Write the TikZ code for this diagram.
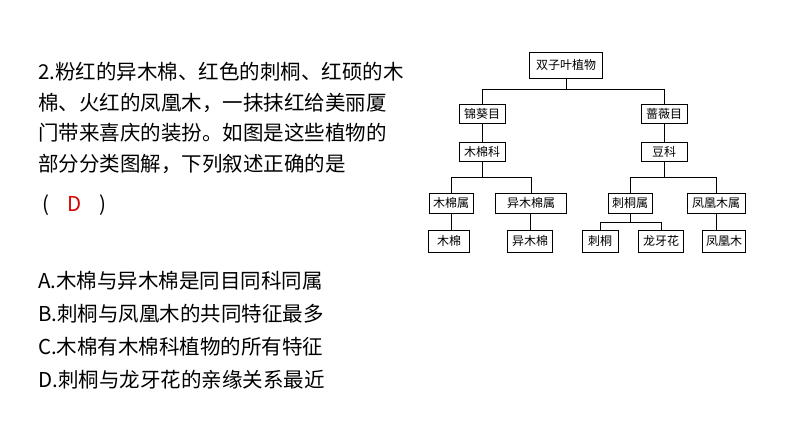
\documentclass[tikz,border=0pt]{standalone}
\usepackage{fontspec}
\newfontfamily\cjk{Noto Sans CJK SC}
\begin{document}
\begin{tikzpicture}[x=1pt,y=-1pt,
  bx/.style={draw,line width=0.7pt,font=\cjk\fontsize{12}{12}\selectfont,inner sep=0pt,minimum height=#1},
  bx/.default=19,
  ln/.style={line width=0.7pt},
  tx/.style={anchor=west,font=\cjk\fontsize{20.5}{20.5}\selectfont,inner sep=0pt}]
\useasboundingbox (0,0) rectangle (794,447);
\node[bx=26,minimum width=73] (r) at (566,65) {双子叶植物};
\node[bx,minimum width=46] (a) at (482,114) {锦葵目};
\node[bx,minimum width=46] (b) at (664,114) {蔷薇目};
\node[bx,minimum width=46] (a1) at (482,152) {木棉科};
\node[bx,minimum width=46] (b1) at (664,152) {豆科};
\node[bx=20,minimum width=44] (c1) at (451,203) {木棉属};
\node[bx=20,minimum width=71] (c2) at (531,203) {异木棉属};
\node[bx=20,minimum width=44] (c3) at (630,203) {刺桐属};
\node[bx=20,minimum width=58] (c4) at (716,203) {凤凰木属};
\node[bx=22,minimum width=41] (d1) at (449,241) {木棉};
\node[bx=22,minimum width=45] (d2) at (530,241) {异木棉};
\node[bx=22,minimum width=36] (d3) at (600,241) {刺桐};
\node[bx=22,minimum width=45] (d4) at (661,241) {龙牙花};
\node[bx=22,minimum width=43] (d5) at (724,241) {凤凰木};
\draw[ln] (r.south) |- (482,89) -- (a.north);
\draw[ln] (r.south) |- (664,89) -- (b.north);
\draw[ln] (a) -- (a1); \draw[ln] (b) -- (b1);
\draw[ln] (a1.south) |- (451,177) -- (c1.north);
\draw[ln] (a1.south) |- (531,177) -- (c2.north);
\draw[ln] (b1.south) |- (630,177) -- (c3.north);
\draw[ln] (b1.south) |- (716,177) -- (c4.north);
\draw[ln] (c1.south) -- (c1.south |- d1.north);
\draw[ln] (c4.south) -- (c4.south |- d5.north);
\draw[ln] (c2.south -| d2.north) -- (d2.north);
\draw[ln] (c3.south) |- (600,222) -- (d3.north);
\draw[ln] (c3.south) |- (661,222) -- (d4.north);
\node[tx] (t1) at (38,72) {2.粉红的异木棉、红色的刺桐、红硕的木};
\node[tx] (t2) at (38,103) {棉、火红的凤凰木，一抹抹红给美丽厦};
\node[tx] (t3) at (38,133) {门带来喜庆的装扮。如图是这些植物的};
\node[tx] (t4) at (38,164) {部分分类图解，下列叙述正确的是};
\node[tx] (t5) at (42,205) {(\hspace{18pt}{\color{red!85!black}D}\hspace{18pt})};
\node[tx] (o1) at (38,281) {A.木棉与异木棉是同目同科同属};
\node[tx] (o2) at (38,314) {B.刺桐与凤凰木的共同特征最多};
\node[tx] (o3) at (38,347) {C.木棉有木棉科植物的所有特征};
\node[tx] (o4) at (38,380) {D.刺桐与龙牙花的亲缘关系最近};
\end{tikzpicture}
\end{document}
